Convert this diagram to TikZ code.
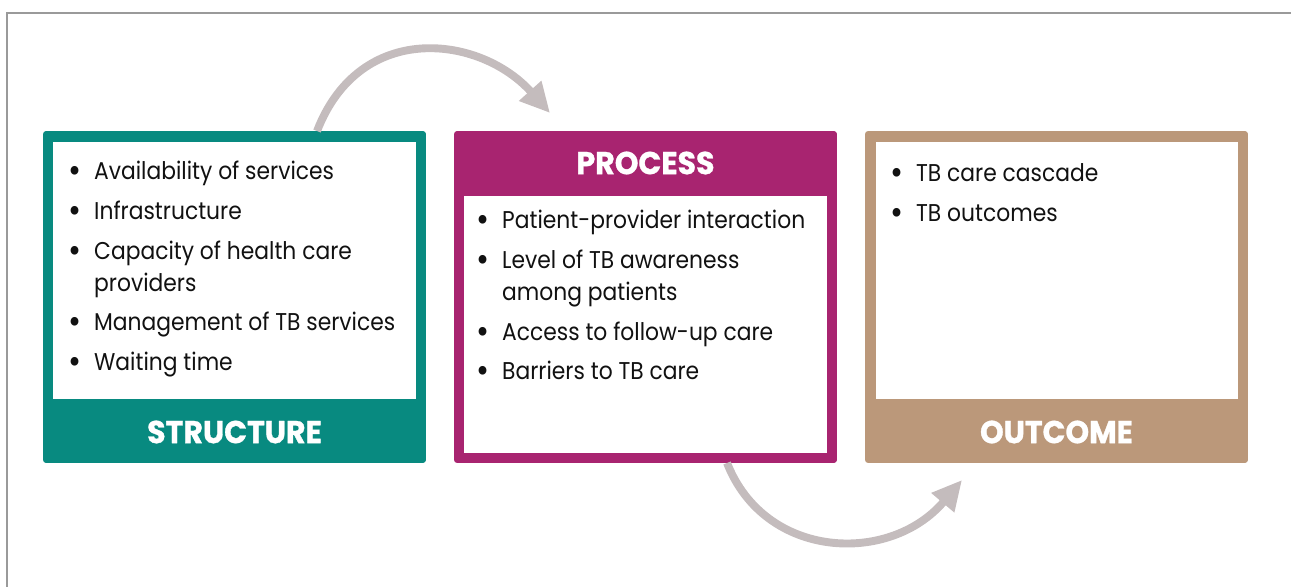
\documentclass[tikz,border=0pt]{standalone}
\usepackage{fontspec}
\setmainfont{Poppins}
\newfontfamily\listfont[FakeStretch=0.9]{Poppins}
\newfontfamily\headfont[FakeStretch=0.95,BoldFeatures={FakeBold=1}]{Poppins}
\usepackage{array}
\usetikzlibrary{
  arrows.meta,
  positioning,
  calc
}

\definecolor{structurecol}{HTML}{088A80}
\definecolor{processcol}{HTML}{A82470}
\definecolor{outcomecol}{HTML}{BB987A}
\definecolor{arrowcol}{HTML}{C4BCBD}
\definecolor{framecol}{HTML}{9A9A9A}
\definecolor{textcol}{HTML}{111111}

\newcommand{\listdot}{\raisebox{-0.12em}{\scalebox{1.45}{\textbullet}}}

\begin{document}
\begin{tikzpicture}[
    x=0.02cm,
    y=-0.02cm,
    >={Triangle[length=17pt,width=16pt]},
    panel/.style={inner sep=0pt,outer sep=0pt,rounded corners=1.7pt,
      minimum width=7.66cm,minimum height=6.64cm},
    sheet/.style={fill=white,inner sep=0pt,outer sep=0pt,
      minimum width=7.26cm,minimum height=5.14cm},
    heading/.style={inner sep=0pt,text=white,
      font=\headfont\fontsize{18}{20}\selectfont\bfseries},
    items/.style={anchor=base west,inner sep=0pt,text=textcol,
      font=\listfont\fontsize{13.8}{18.1}\selectfont},
    flow/.style={->,draw=arrowcol,line width=4.5pt}
    ]
    
    \useasboundingbox (0,0) rectangle (1291,587);
    
    \draw[framecol,line width=0.8pt] (7,587)--(7,13)--(1291,13);
    
    % structure
    \node[panel,fill=structurecol] (structure) at (234.5,297) {};
    \node[sheet] (structure-sheet) at (234.5,270.5) {};
    \node[heading] (structure-title) at (234.5,432) {STRUCTURE};
    \node[items] (structure-list) at (68,180)
    {\begin{tabular}[t]{@{}p{14.7pt}@{}l@{}}
    \listdot & Availability of services\\[4.5pt]
    \listdot & Infrastructure\\[4.5pt]
    \listdot & Capacity of health care\\
    & providers\\[4.5pt]
    \listdot & Management of TB services\\[4.5pt]
    \listdot & Waiting time
    \end{tabular}};
    
    % process
    \node[panel,fill=processcol] (process) at (645.5,297) {};
    \node[sheet] (process-sheet) at (645.5,324.5) {};
    \node[heading] (process-title) at (645.5,163) {PROCESS};
    \node[items] (process-list) at (476,229)
    {\begin{tabular}[t]{@{}p{14.7pt}@{}l@{}}
    \listdot & Patient-provider interaction\\[4.5pt]
    \listdot & Level of TB awareness\\
    & among patients\\[4.5pt]
    \listdot & Access to follow-up care\\[4.5pt]
    \listdot & Barriers to TB care
    \end{tabular}};
    
    % outcome
    \node[panel,fill=outcomecol] (outcome) at (1056.5,297) {};
    \node[sheet] (outcome-sheet) at (1057,270.5) {};
    \node[heading] (outcome-title) at (1056.5,432) {OUTCOME};
    \node[items] (outcome-list) at (890,182)
    {\begin{tabular}[t]{@{}p{14.7pt}@{}l@{}}
    \listdot & TB care cascade\\[4.5pt]
    \listdot & TB outcomes
    \end{tabular}};
    
    % arrows between the stages
    \coordinate (process-in) at ($(process.north west)+(96,-18)$);
    \coordinate (outcome-in) at ($(outcome.south west)+(97,17)$);
    
    \draw[flow] ($(structure.north west)+(274,0)$)
    .. controls (360,20) and (480,35) .. (process-in);
    
    \draw[flow] ($(process.south west)+(273,0)$)
    .. controls (765,560) and (890,565) .. (outcome-in);
    
\end{tikzpicture}
\end{document}
